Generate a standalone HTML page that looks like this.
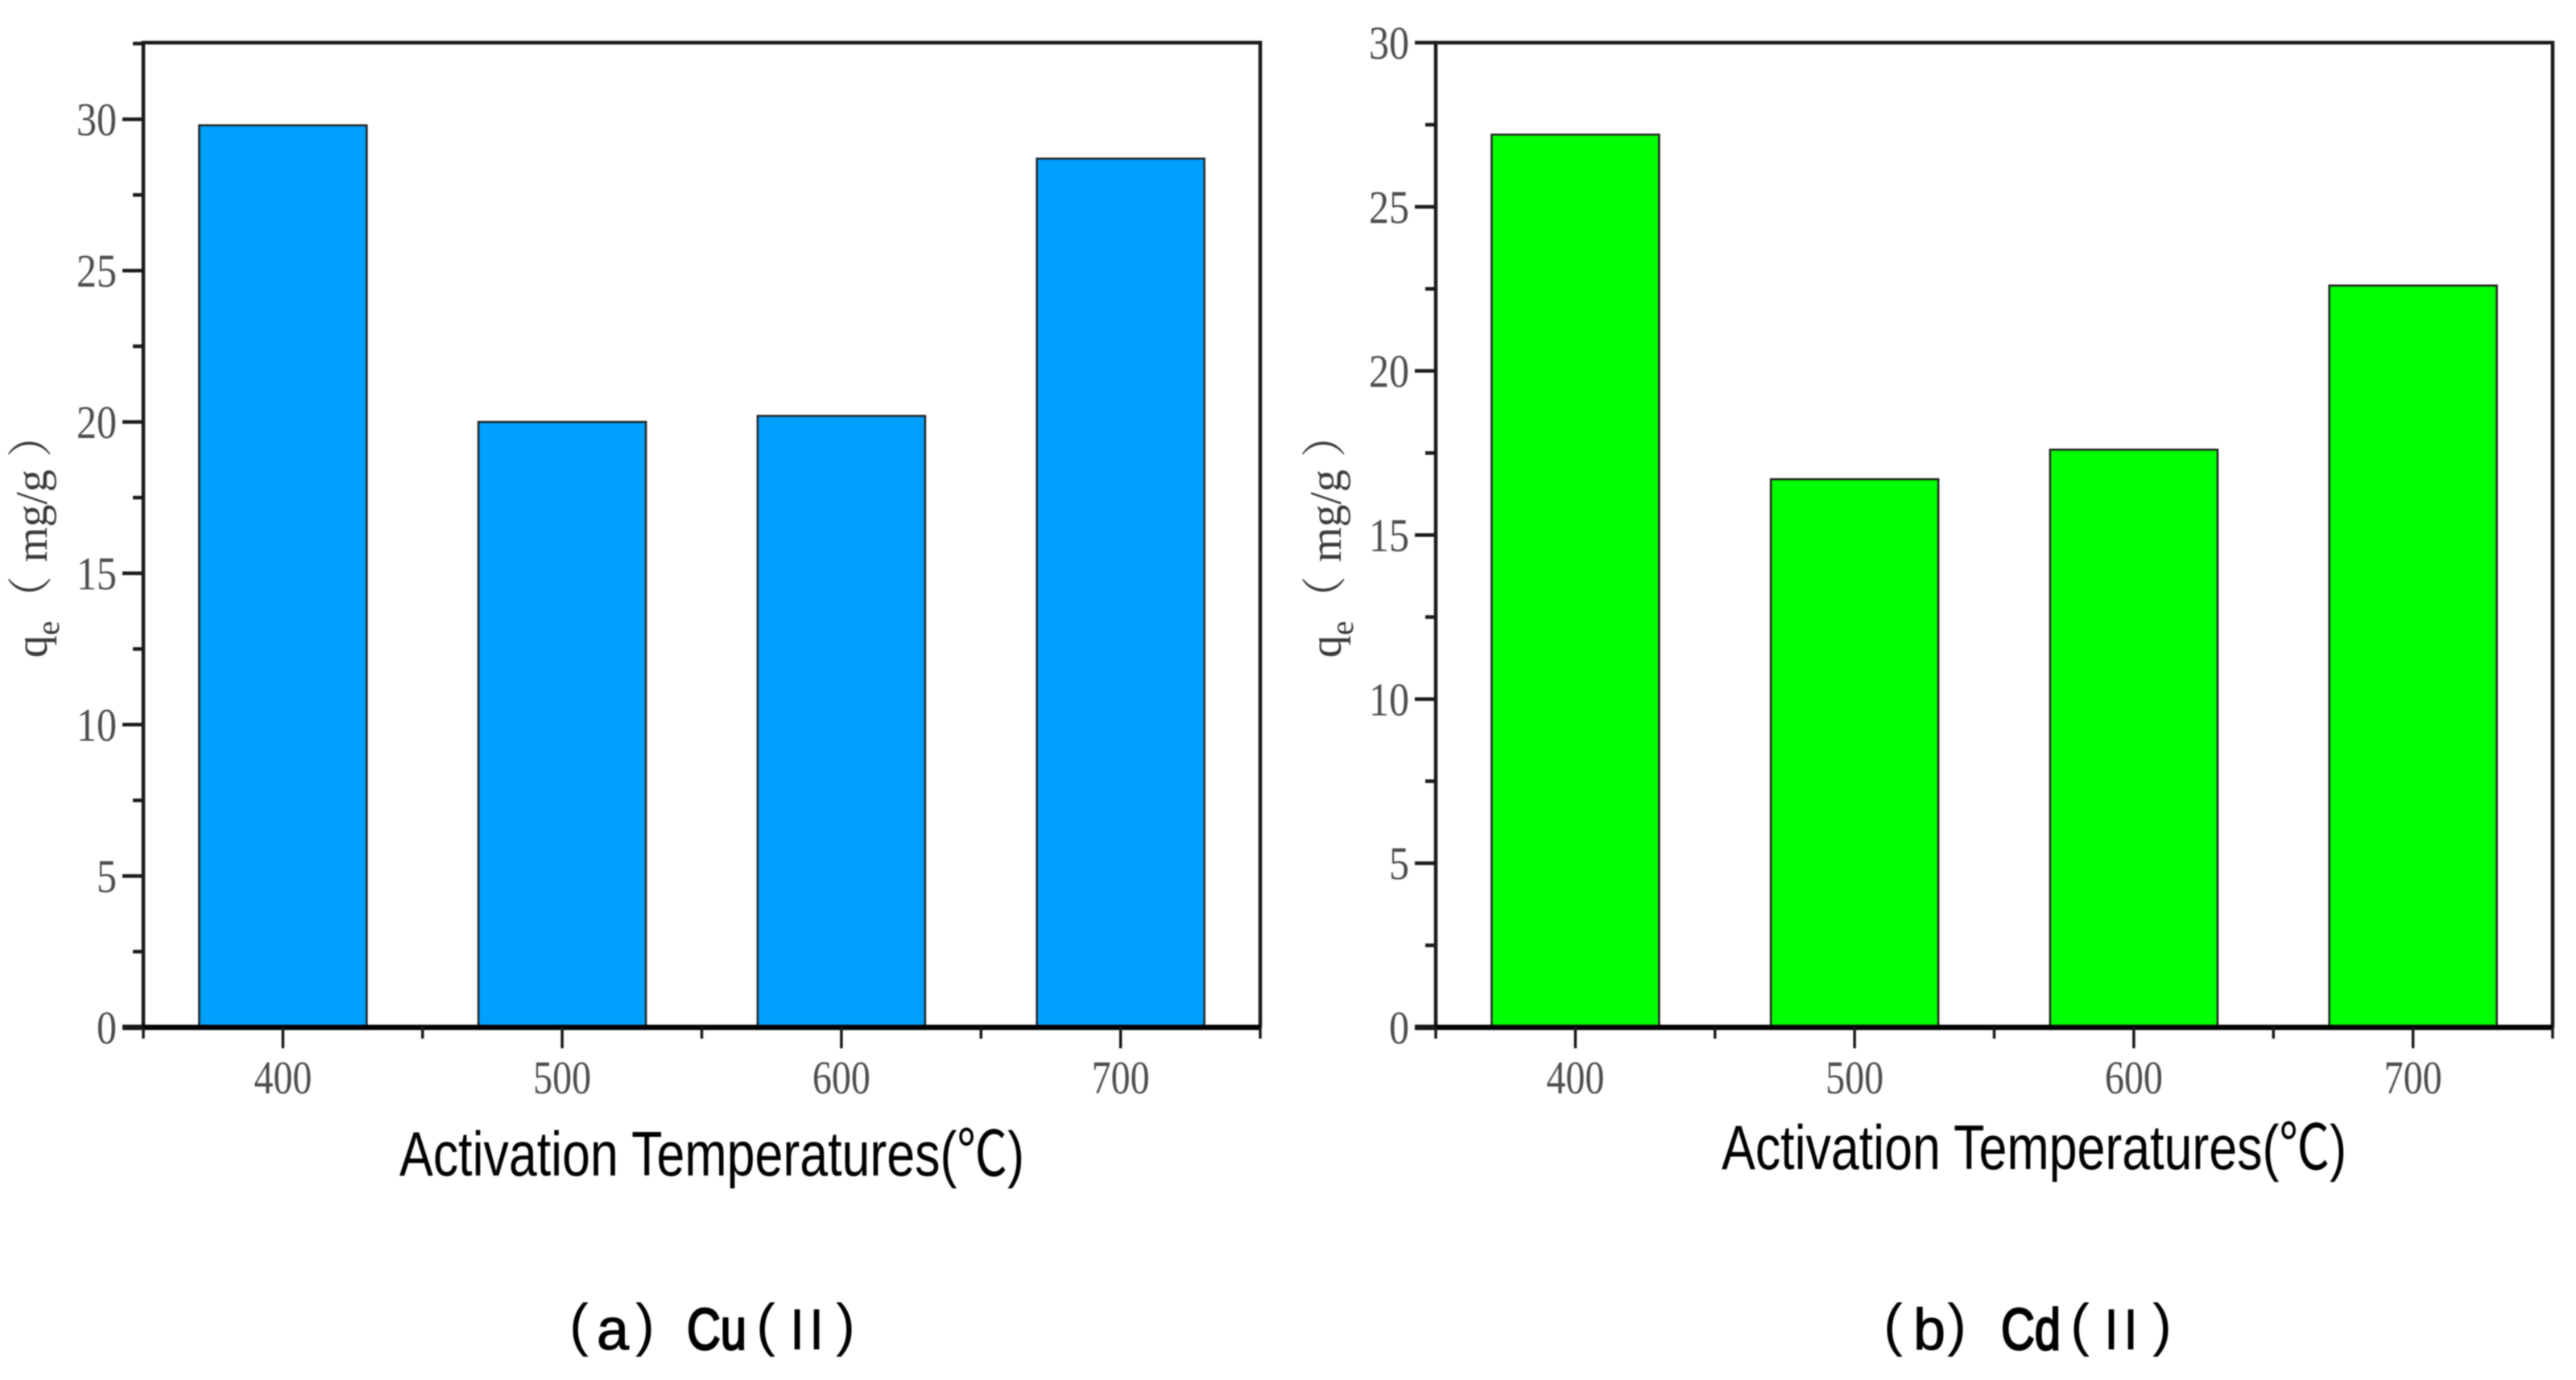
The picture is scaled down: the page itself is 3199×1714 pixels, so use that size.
<!DOCTYPE html>
<html lang="en">
<head>
<meta charset="utf-8">
<title>Activation temperature adsorption charts</title>
<style>
html,body{margin:0;padding:0;background:#fff;width:3199px;height:1714px;overflow:hidden}
svg{display:block;filter:blur(0.7px)}
.tick{font-family:"Liberation Serif","Noto Serif CJK SC",serif;fill:#4d4d4d}
.ytitle{font-family:"Liberation Serif","Noto Serif CJK SC",serif;fill:#3a3a3a}
.xtitle,.caption{font-family:"Liberation Sans","Noto Sans CJK SC",sans-serif;fill:#000}
</style>
</head>
<body>
<svg id="figure" xmlns="http://www.w3.org/2000/svg" width="3199" height="1714" viewBox="0 0 3199 1714">
<rect width="3199" height="1714" fill="#ffffff"/>
</svg>
<script>
const categories = [400, 500, 600, 700];
const cuValues = [29.8, 20.0, 20.2, 28.7];
const cdValues = [27.2, 16.7, 17.6, 22.6];
const cuYTicks = [0, 5, 10, 15, 20, 25, 30];
const cdYTicks = [0, 5, 10, 15, 20, 25, 30];
const xTickLabels = ["400", "500", "600", "700"];

const NS = 'http://www.w3.org/2000/svg';
const root = document.getElementById('figure');

function mk(parent, tag, attrs, txt) {
  const el = document.createElementNS(NS, tag);
  for (const k in attrs) el.setAttribute(k, attrs[k]);
  if (txt !== undefined) el.textContent = txt;
  parent.appendChild(el);
  return el;
}

function drawPanel(cfg) {
  const g = mk(root, 'g', {});
  
  

  const xScale = v => cfg.left + (v - 350) / 400 * (cfg.right - cfg.left);
  const yScale = v => cfg.bottom - v / cfg.yMax * (cfg.bottom - cfg.top);
  const barHalf = 30;

  cfg.values.forEach((v, i) => {
    const x0 = xScale(categories[i] - barHalf);
    const x1 = xScale(categories[i] + barHalf);
    const bar = mk(g, 'rect', {
      x: x0, y: yScale(v), width: x1 - x0, height: cfg.bottom - yScale(v),
      fill: cfg.color, stroke: '#222', 'stroke-width': 2.5
    });
    
    
  });

  const lineStyle = { stroke: '#1a1a1a', 'stroke-width': 4.5, fill: 'none' };

  const frame = mk(g, 'path', Object.assign({
    d: 'M' + cfg.left + ' ' + cfg.bottom + 'V' + cfg.top + 'H' + cfg.right + 'V' + cfg.bottom
  }, lineStyle));
  
  

  const xAxis = mk(g, 'line', {
    x1: cfg.left - 26, x2: cfg.right, y1: cfg.bottom, y2: cfg.bottom,
    stroke: '#000', 'stroke-width': 6.5
  });
  
  

  // y axis major ticks and labels
  cfg.yTicks.forEach(v => {
    const y = yScale(v);
    const t = mk(g, 'line', Object.assign({ x1: cfg.left - 26, x2: cfg.left, y1: y, y2: y }, lineStyle));
    
    
    const s = String(v);
    const lab = mk(g, 'text', {
      class: 'tick', x: cfg.left - 33, y: y + 20, 'text-anchor': 'end', 'font-size': 58,
      textLength: s.length * 25, lengthAdjust: 'spacingAndGlyphs'
    }, s);
    
    
  });

  // y axis minor ticks
  for (let v = 2.5; v <= cfg.yMax; v += 5) {
    const y = yScale(v);
    const t = mk(g, 'line', Object.assign({ x1: cfg.left - 13, x2: cfg.left, y1: y, y2: y }, lineStyle));
    
    
  }

  // x axis major ticks and labels
  categories.forEach((c, i) => {
    const x = xScale(c);
    const t = mk(g, 'line', { x1: x, x2: x, y1: cfg.bottom, y2: cfg.bottom + 26, stroke: '#1a1a1a', 'stroke-width': 3.5 });
    
    
    const lab = mk(g, 'text', {
      class: 'tick', x: x, y: cfg.bottom + 82, 'text-anchor': 'middle', 'font-size': 58,
      textLength: 72, lengthAdjust: 'spacingAndGlyphs'
    }, xTickLabels[i]);
    
    
  });

  // x axis minor ticks
  for (let v = 350; v <= 750; v += 100) {
    const x = xScale(v);
    const t = mk(g, 'line', { x1: x, x2: x, y1: cfg.bottom, y2: cfg.bottom + 14, stroke: '#1a1a1a', 'stroke-width': 3.5 });
    
    
  }

  // y axis title
  const yt = mk(g, 'text', {
    class: 'ytitle', 'font-size': 56, 'text-anchor': 'start',
    transform: 'translate(' + cfg.yTitleX + ' 817) rotate(-90)'
  });
  
  
  mk(yt, 'tspan', {}, 'q');
  mk(yt, 'tspan', { 'font-size': 40, dy: 15 }, 'e');
  mk(yt, 'tspan', { dy: -15 }, '（');
  mk(yt, 'tspan', { dx: 17 }, 'mg/g');
  mk(yt, 'tspan', { dx: 15 }, '）');

  // x axis title
  const xt = mk(g, 'text', {
    class: 'xtitle', x: cfg.xTitleX, y: cfg.xTitleY, 'text-anchor': 'middle', 'font-size': 78,
    textLength: 776, lengthAdjust: 'spacingAndGlyphs'
  }, 'Activation Temperatures(℃)');
  
  

  // caption, assembled from separately placed pieces
  const cap = mk(g, 'g', { class: 'caption', 'font-size': 72, stroke: '#000' });
  
  
  mk(cap, 'text', { x: cfg.cap[0], y: 1670, 'stroke-width': 0 }, '(');
  mk(cap, 'text', { x: cfg.cap[1], y: 1676, 'stroke-width': 1 }, cfg.capLetter);
  mk(cap, 'text', { x: cfg.cap[2], y: 1670, 'stroke-width': 0 }, ')');
  mk(cap, 'text', { x: cfg.cap[3], y: 1676, 'stroke-width': 2.5, textLength: 74, lengthAdjust: 'spacingAndGlyphs' }, cfg.capMetal);
  mk(cap, 'text', { x: cfg.cap[4], y: 1670, 'stroke-width': 0 }, '(');
  mk(cap, 'text', { x: cfg.cap[5], y: 1676, 'stroke-width': 0, textLength: 44 }, 'II');
  mk(cap, 'text', { x: cfg.cap[6], y: 1670, 'stroke-width': 0 }, ')');
}

drawPanel({
  id: 'cu', left: 178, right: 1565, top: 53, bottom: 1276, yMax: 32.53,
  values: cuValues, yTicks: cuYTicks, color: '#00a0ff',
  yTitleX: 58, xTitleX: 884, xTitleY: 1460,
  cap: [707, 741, 789, 853, 939, 980, 1038],
  capLetter: 'a', capMetal: 'Cu'
});

drawPanel({
  id: 'cd', left: 1783, right: 3170, top: 53, bottom: 1276, yMax: 30,
  values: cdValues, yTicks: cdYTicks, color: '#00ff00',
  yTitleX: 1665, xTitleX: 2526, xTitleY: 1452,
  cap: [2339, 2376, 2418, 2485, 2571, 2612, 2673],
  capLetter: 'b', capMetal: 'Cd'
});
</script>
</body>
</html>
